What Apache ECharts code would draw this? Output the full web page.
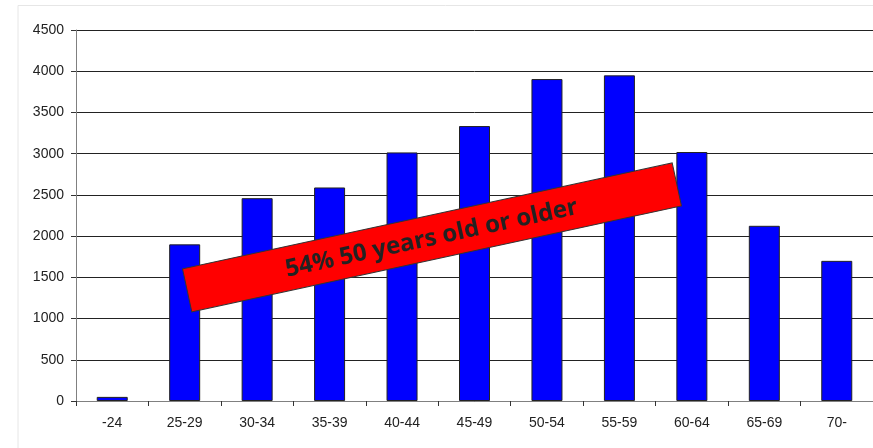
<!DOCTYPE html>
<html>
<head>
<meta charset="utf-8">
<script src="https://cdn.jsdelivr.net/npm/echarts@6/dist/echarts.min.js"></script>
<style>
  html, body { margin: 0; padding: 0; background: #fff; }
  #chart { width: 873px; height: 448px; }
</style>
</head>
<body>
<div id="chart"></div>
<script>
// age groups and counts
const ageGroups = ['-24', '25-29', '30-34', '35-39', '40-44', '45-49', '50-54', '55-59', '60-64', '65-69', '70-'];
const counts = [50, 1900, 2460, 2590, 3015, 3335, 3905, 3950, 3020, 2125, 1700];
const bannerText = '54% 50 years old or older';

const chart = echarts.init(document.getElementById('chart'));

const option = {
  animation: false,
  backgroundColor: '#fff',
  grid: {
    left: 76,
    right: -5,
    top: 30,
    bottom: 47,
  },
  xAxis: {
    type: 'category',
    data: ageGroups,
    boundaryGap: true,
    axisLine: { lineStyle: { color: '#808080', width: 1 } },
    axisTick: { show: true, length: 5, lineStyle: { color: '#333' } },
    axisLabel: {
      margin: 15,
      color: '#222',
      fontSize: 14,
      fontFamily: 'Liberation Sans, Arial, sans-serif',
    },
    splitLine: { show: false },
  },
  yAxis: {
    type: 'value',
    min: 0,
    max: 4500,
    interval: 500,
    axisLine: { show: true, lineStyle: { color: '#808080', width: 1 } },
    axisTick: { show: true, length: 5, lineStyle: { color: '#333' } },
    axisLabel: {
      margin: 12,
      color: '#222',
      fontSize: 14,
      fontFamily: 'Liberation Sans, Arial, sans-serif',
      formatter: (v) => String(v),
    },
    splitLine: { show: true, lineStyle: { color: '#222', width: 1 } },
  },
  series: [
    {
      type: 'bar',
      data: counts,
      barWidth: 31,
      itemStyle: {
        color: '#0000ff',
        borderColor: '#222',
        borderWidth: 1,
      },
    },
  ],
  graphic: [
    // light frame at top and left
    {
      type: 'polyline',
      shape: { points: [[18, 448], [18, 5.5], [873, 5.5]] },
      style: { stroke: '#e6e6e6', lineWidth: 1, fill: null },
      silent: true,
    },
    // red banner
    {
      type: 'group',
      x: 431.5,
      y: 237.5,
      rotation: 12.2 * Math.PI / 180,
      zlevel: 1,
      z: 100,
      children: [
        {
          type: 'rect',
          shape: { x: -250, y: -22, width: 501, height: 44 },
          style: { fill: '#ff0000', stroke: '#333', lineWidth: 1 },
          zlevel: 1,
          z: 100,
        },
        {
          type: 'text',
          x: 0,
          y: 1,
          zlevel: 1,
          z: 101,
          style: {
            text: bannerText,
            align: 'center',
            verticalAlign: 'middle',
            font: 'bold 24px "Open Sans", "DejaVu Sans", sans-serif',
            fill: '#222',
          },
        },
      ],
    },
  ],
};

chart.setOption(option);
</script>
</body>
</html>
